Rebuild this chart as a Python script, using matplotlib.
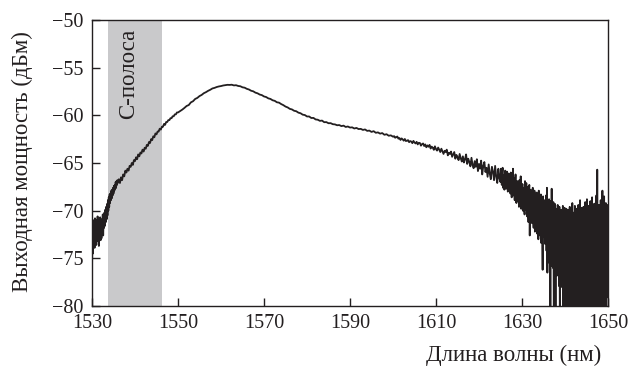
import numpy as np
import matplotlib
matplotlib.use("Agg")
import matplotlib.pyplot as plt

plt.rcParams['font.family'] = ['Liberation Serif', 'DejaVu Serif']
plt.rcParams['axes.unicode_minus'] = True

# --- data ---
x_ticks = [1530, 1550, 1570, 1590, 1610, 1630, 1650]
y_ticks = [-80, -75, -70, -65, -60, -55, -50]
c_band = [1533.7, 1546.3]

# segment 1: 1530.0 .. 1536.0 nm, 0.1 nm step
seg1_range = [1530.0, 1536.0]
seg1_power = [
    -76.5, -72.0, -74.5, -71.0, -73.8, -71.5, -73.9, -70.8, -72.9, -71.2,
    -73.6, -71.0, -72.8, -70.6, -73.2, -71.3, -73.7, -71.0, -72.4, -70.7,
    -73.1, -71.4, -72.9, -70.9, -72.3, -70.4, -72.6, -70.9, -71.8, -70.2,
    -71.6, -69.9, -71.2, -69.6, -70.9, -69.3, -70.5, -68.9, -70.0, -68.6,
    -69.6, -68.3, -69.2, -68.2, -68.9, -67.9, -68.7, -67.8, -68.4, -67.6,
    -68.2, -67.4, -67.9, -67.3, -67.7, -67.0, -67.6, -66.9, -67.3, -66.8,
    -67.1]

# segment 2: 1536.25 .. 1550.0 nm, 0.25 nm step
seg2_range = [1536.25, 1550.0]
seg2_power = [
    -66.7, -67.1, -66.5, -66.8, -66.2, -66.4, -65.8, -66.0, -65.6, -65.8,
    -65.3, -65.4, -65.0, -65.2, -64.7, -64.8, -64.4, -64.6, -64.1, -64.3,
    -63.9, -64.0, -63.6, -63.8, -63.4, -63.5, -63.1, -63.2, -62.8, -62.9,
    -62.5, -62.6, -62.2, -62.3, -61.9, -62.0, -61.7, -61.7, -61.4, -61.5,
    -61.2, -61.2, -60.9, -61.0, -60.7, -60.7, -60.5, -60.5, -60.3, -60.3,
    -60.1, -60.1, -59.9, -59.9, -59.7, -59.7]

# segment 3: 1550.5 .. 1600.0 nm, 0.5 nm step
seg3_range = [1550.5, 1600.0]
seg3_power = [
    -59.55, -59.40, -59.22, -59.02, -58.92, -58.64, -58.52, -58.28, -58.17, -57.98,
    -57.86, -57.68, -57.57, -57.43, -57.32, -57.18, -57.12, -57.03, -56.97, -56.93,
    -56.87, -56.84, -56.80, -56.81, -56.79, -56.86, -56.84, -56.92, -56.95, -57.06,
    -57.10, -57.22, -57.29, -57.42, -57.48, -57.62, -57.69, -57.82, -57.88, -58.02,
    -58.08, -58.22, -58.28, -58.42, -58.48, -58.63, -58.67, -58.82, -58.93, -59.08,
    -59.17, -59.32, -59.38, -59.52, -59.57, -59.72, -59.78, -59.93, -59.97, -60.12,
    -60.12, -60.28, -60.27, -60.43, -60.46, -60.58, -60.55, -60.72, -60.71, -60.83,
    -60.82, -60.93, -60.95, -61.04, -61.02, -61.13, -61.08, -61.22, -61.17, -61.28,
    -61.26, -61.38, -61.32, -61.44, -61.42, -61.53, -61.48, -61.63, -61.60, -61.74,
    -61.66, -61.83, -61.79, -61.92, -61.86, -62.04, -61.98, -62.14, -62.10, -62.24]

# segment 4: 1600.25 .. 1625.0 nm, 0.25 nm step
seg4_range = [1600.25, 1625.0]
seg4_power = [
    -62.18, -62.35, -62.30, -62.22, -62.45, -62.38, -62.58, -62.42,
    -62.52, -62.66, -62.48, -62.70, -62.66, -62.60, -62.82, -62.70,
    -62.75, -62.92, -62.68, -62.85, -62.95, -62.78, -63.05, -62.88,
    -62.90, -63.18, -63.02, -62.95, -63.22, -63.05, -63.35, -63.15,
    -63.30, -63.10, -63.48, -63.28, -63.40, -63.62, -63.25, -63.55,
    -63.70, -63.38, -63.60, -63.85, -63.50, -63.78, -64.05, -63.72,
    -63.85, -63.60, -64.20, -63.92, -64.05, -63.80, -64.35, -64.10,
    -63.85, -64.55, -64.15, -64.40, -64.70, -64.05, -64.50, -64.85,
    -64.30, -64.95, -64.60, -64.10, -65.10, -64.55, -64.90, -65.35,
    -64.45, -65.20, -65.55, -64.80, -65.40, -64.60, -65.85, -65.10,
    -65.60, -64.75, -66.20, -65.30, -64.90, -65.95, -65.50, -66.45,
    -65.15, -66.10, -66.70, -65.40, -65.90, -66.80, -65.30, -66.40,
    -67.10, -65.60, -66.60, -67.00]

# segment 5: 1625.1 .. 1650.0 nm, 0.1 nm step
seg5_range = [1625.1, 1650.0]
seg5_power = [
    -65.6, -66.4, -67.3, -66.0, -65.5, -67.6, -66.3, -66.9, -67.8, -66.2,
    -65.8, -67.0, -67.7, -66.4, -65.9, -66.6, -68.0, -67.3, -66.1, -67.5,
    -66.3, -67.5, -68.2, -66.0, -67.2, -68.6, -66.5, -67.7, -65.6, -68.4,
    -66.6, -67.9, -68.9, -67.1, -66.2, -68.5, -69.2, -67.4, -66.9, -69.0,
    -67.0, -68.4, -69.6, -66.8, -68.1, -69.3, -66.4, -69.8, -67.3, -68.6,
    -67.2, -70.0, -68.3, -67.6, -69.5, -70.4, -66.9, -68.8, -69.9, -67.1,
    -68.6, -70.6, -67.5, -69.4, -71.2, -68.0, -67.3, -72.6, -69.1, -67.8,
    -70.8, -68.0, -71.3, -69.2, -67.6, -70.9, -71.8, -68.5, -67.9, -72.2,
    -68.4, -70.6, -71.7, -68.1, -72.4, -69.5, -68.8, -73.0, -67.9, -71.9,
    -68.7, -72.6, -70.2, -68.3, -73.4, -69.1, -72.1, -76.2, -68.5, -70.9,
    -69.0, -72.8, -68.9, -73.5, -71.0, -68.4, -74.2, -67.6, -76.5, -70.4,
    -69.3, -74.0, -68.8, -75.5, -69.7, -81.0, -69.0, -74.6, -67.7, -75.8,
    -69.5, -76.0, -69.1, -81.0, -70.0, -75.0, -69.3, -81.0, -70.2, -76.4,
    -69.8, -76.8, -69.4, -75.4, -70.3, -77.9, -69.6, -81.0, -70.6, -76.1,
    -69.9, -78.0, -70.2, -76.6, -69.5, -81.0, -70.8, -77.3, -69.7, -81.0,
    -70.1, -78.5, -69.8, -81.0, -70.5, -77.8, -69.9, -81.0, -70.7, -79.2,
    -69.6, -81.0, -70.3, -78.0, -70.0, -81.0, -69.2, -79.5, -70.6, -81.0,
    -70.2, -78.8, -69.5, -81.0, -70.8, -77.6, -69.8, -81.0, -70.1, -80.0,
    -69.4, -81.0, -70.4, -78.3, -68.9, -81.0, -70.6, -79.1, -69.7, -81.0,
    -70.3, -77.9, -69.6, -81.0, -70.9, -79.4, -69.1, -81.0, -70.5, -78.6,
    -68.8, -81.0, -70.2, -79.8, -69.5, -81.0, -70.7, -78.2, -69.0, -81.0,
    -70.4, -79.0, -68.6, -81.0, -70.1, -78.7, -69.3, -81.0, -70.6, -79.6,
    -69.2, -81.0, -68.4, -79.3, -65.7, -81.0, -70.0, -78.9, -69.4, -81.0,
    -70.3, -79.5, -68.9, -81.0, -69.8, -78.4, -67.9, -81.0, -70.2, -79.9,
    -68.5, -81.0, -69.9, -78.6, -69.2, -81.0, -70.4, -79.1, -69.4, -72.0]

segments = [(seg1_range, seg1_power), (seg2_range, seg2_power),
            (seg3_range, seg3_power), (seg4_range, seg4_power),
            (seg5_range, seg5_power)]
wl = np.concatenate([np.linspace(r[0], r[1], len(p)) for r, p in segments])
pw = np.concatenate([np.array(p) for r, p in segments])

# --- figure ---
fig = plt.figure(figsize=(6.3, 3.67), dpi=100)
ax = fig.add_axes([92 / 630, 1 - 306 / 367, (608 - 92) / 630, (306 - 20) / 367])

ax.axvspan(c_band[0], c_band[1], color='#c9c9cb', lw=0, zorder=0)
ax.plot(wl, pw, color='#231f20', lw=1.3, zorder=2)

ax.set_xlim(1530, 1650)
ax.set_ylim(-80, -50)
ax.set_xticks(x_ticks)
ax.set_yticks(y_ticks)
ax.tick_params(direction='in', length=6, width=1.0, top=False, right=False,
               labelsize=14.5, colors='#231f20', pad=6)
for s in ax.spines.values():
    s.set_linewidth(1.0)
    s.set_color('#231f20')

ax.text(1538.6, -50.9, 'С-полоса', rotation=90, ha='center', va='top',
        fontsize=16.5, color='#231f20')

fig.text(22 / 630, 1 - 162 / 367, 'Выходная мощность (дБм)', rotation=90,
         ha='center', va='center', fontsize=16.5, color='#231f20')
fig.text(601 / 630, 1 - 355 / 367, 'Длина волны (нм)', ha='right',
         va='center', fontsize=16.5, color='#231f20')

fig.savefig('out.png', dpi=100)
